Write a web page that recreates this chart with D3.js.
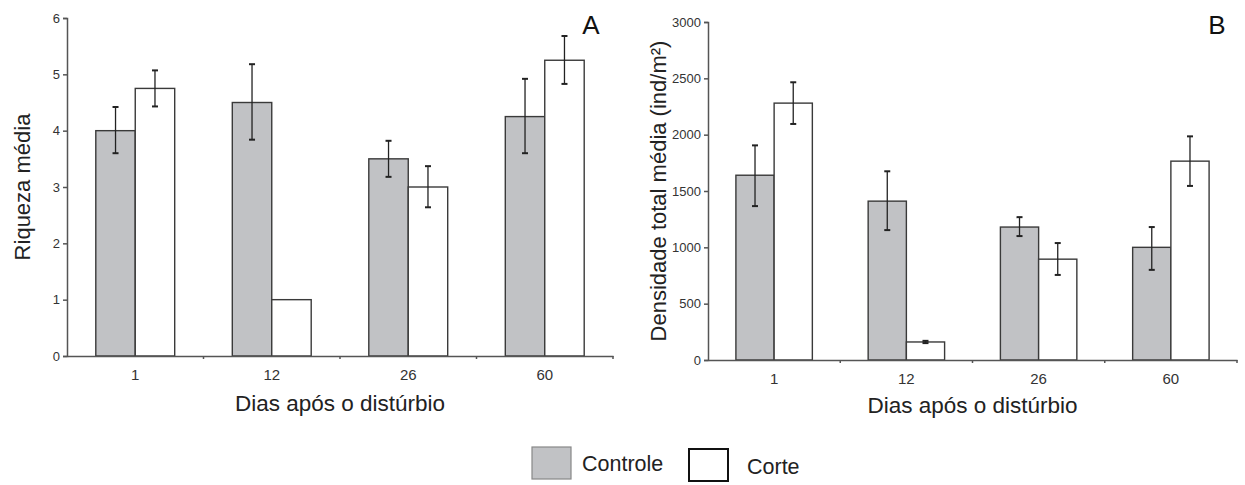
<!DOCTYPE html>
<html>
<head>
<meta charset="utf-8">
<script src="https://cdn.jsdelivr.net/npm/d3@7"></script>
<style>
  body { margin: 0; background: #fff; }
  svg { font-family: "Liberation Sans", Arial, sans-serif; }
</style>
</head>
<body>
<svg width="1245" height="485"></svg>
<script>
// data
var days = ["1", "12", "26", "60"],
    series = ["Controle", "Corte"];

var riquezaControle = [4.0, 4.5, 3.5, 4.25],
    riquezaControleLo = [3.6, 3.84, 3.18, 3.6],
    riquezaControleHi = [4.42, 5.18, 3.82, 4.92],
    riquezaCorte = [4.75, 1.0, 3.0, 5.25],
    riquezaCorteLo = [4.43, null, 2.64, 4.83],
    riquezaCorteHi = [5.07, null, 3.37, 5.68];

var densControle = [1640, 1410, 1180, 1000],
    densControleLo = [1366, 1153, 1100, 800],
    densControleHi = [1905, 1675, 1268, 1180],
    densCorte = [2280, 160, 895, 1765],
    densCorteLo = [2095, 150, 755, 1545],
    densCorteHi = [2465, 170, 1038, 1985];

var ticksA = [0, 1, 2, 3, 4, 5, 6],
    ticksB = [0, 500, 1000, 1500, 2000, 2500, 3000];

var svg = d3.select("svg");

var greyFill = "#c1c2c5",
    barStroke = "#3a3a3a",
    axisColor = "#555";

function panel(opt) {
    var g = svg.append("g");

    var x = d3.scaleBand()
        .domain(days)
        .range([opt.left, opt.right])
        .padding(0);

    var xs = d3.scaleBand()
        .domain(series)
        .range([0, x.bandwidth()])
        .paddingInner(0)
        .paddingOuter(0.73);

    var y = d3.scaleLinear()
        .domain([0, opt.max])
        .range([opt.bottom, opt.top]);

    // bars
    var rows = days.map(function (d, i) {
        return [
            { day: d, s: "Controle", v: opt.ctrl[i], lo: opt.ctrlLo[i], hi: opt.ctrlHi[i] },
            { day: d, s: "Corte", v: opt.corte[i], lo: opt.corteLo[i], hi: opt.corteHi[i] }
        ];
    });
    var flat = [].concat.apply([], rows);

    g.selectAll("rect.bar")
        .data(flat)
        .enter()
        .append("rect")
        .attr("class", "bar")
        .attr("x", function (d) { return x(d.day) + xs(d.s); })
        .attr("y", function (d) { return y(d.v); })
        .attr("width", xs.bandwidth())
        .attr("height", function (d) { return y(0) - y(d.v); })
        .attr("fill", function (d) { return d.s == "Controle" ? greyFill : "#fff"; })
        .attr("stroke", barStroke)
        .attr("stroke-width", 1.4);

    // error bars
    var err = g.selectAll("g.err")
        .data(flat.filter(function (d) { return d.lo != null; }))
        .enter()
        .append("g")
        .attr("class", "err")
        .attr("stroke", "#222")
        .attr("stroke-width", 1.3);

    function cx(d) { return x(d.day) + xs(d.s) + xs.bandwidth() / 2; }

    err.append("line")
        .attr("x1", cx).attr("x2", cx)
        .attr("y1", function (d) { return y(d.lo); })
        .attr("y2", function (d) { return y(d.hi); });
    err.append("line")
        .attr("x1", function (d) { return cx(d) - 3; })
        .attr("x2", function (d) { return cx(d) + 3; })
        .attr("y1", function (d) { return y(d.hi); })
        .attr("y2", function (d) { return y(d.hi); })
        .attr("stroke-width", 2);
    err.append("line")
        .attr("x1", function (d) { return cx(d) - 3; })
        .attr("x2", function (d) { return cx(d) + 3; })
        .attr("y1", function (d) { return y(d.lo); })
        .attr("y2", function (d) { return y(d.lo); })
        .attr("stroke-width", 2);

    // y axis
    var ya = g.append("g")
        .attr("transform", "translate(" + opt.left + ",0)")
        .call(d3.axisLeft(y).tickValues(opt.ticks).tickSize(4).tickPadding(3).tickFormat(d3.format("d")));
    ya.selectAll("path, line").attr("stroke", axisColor).attr("stroke-width", 1.5);
    ya.attr("font-size", 13).attr("font-family", "Liberation Sans, Arial, sans-serif");
    ya.selectAll("text").attr("fill", "#333");

    // x axis: baseline with ticks between groups, labels at centres
    var xa = g.append("g")
        .attr("transform", "translate(0," + opt.bottom + ")")
        .call(d3.axisBottom(x).tickSize(0).tickPadding(13));
    xa.select("path").attr("stroke", axisColor).attr("stroke-width", 1.5);
    xa.attr("font-size", 15).attr("font-family", "Liberation Sans, Arial, sans-serif");
    xa.selectAll("text").attr("fill", "#333");

    g.selectAll("line.sep")
        .data(days)
        .enter()
        .append("line")
        .attr("class", "sep")
        .attr("x1", function (d) { return x(d) + x.bandwidth(); })
        .attr("x2", function (d) { return x(d) + x.bandwidth(); })
        .attr("y1", opt.bottom)
        .attr("y2", opt.bottom + 3)
        .attr("stroke", axisColor)
        .attr("stroke-width", 1.5);

    // titles
    g.append("text")
        .attr("transform", "translate(" + opt.yTitleX + "," + ((opt.top + opt.bottom) / 2) + ") rotate(-90)")
        .attr("text-anchor", "middle")
        .attr("font-size", 22)
        .attr("fill", "#222")
        .text(opt.yTitle);

    g.append("text")
        .attr("x", (opt.left + opt.right) / 2)
        .attr("y", opt.xTitleY)
        .attr("text-anchor", "middle")
        .attr("font-size", 22.5)
        .attr("fill", "#222")
        .text("Dias após o distúrbio");

    g.append("text")
        .attr("x", opt.letterX)
        .attr("y", 34)
        .attr("text-anchor", "middle")
        .attr("font-size", 26)
        .attr("fill", "#111")
        .text(opt.letter);
}

panel({
    left: 67, right: 613, top: 18, bottom: 356, max: 6, ticks: ticksA,
    ctrl: riquezaControle, ctrlLo: riquezaControleLo, ctrlHi: riquezaControleHi,
    corte: riquezaCorte, corteLo: riquezaCorteLo, corteHi: riquezaCorteHi,
    yTitle: "Riqueza média", yTitleX: 30, letter: "A", letterX: 591, xTitleY: 411
});

panel({
    left: 708, right: 1237, top: 22, bottom: 360, max: 3000, ticks: ticksB,
    ctrl: densControle, ctrlLo: densControleLo, ctrlHi: densControleHi,
    corte: densCorte, corteLo: densCorteLo, corteHi: densCorteHi,
    yTitle: "Densidade total média (ind/m²)", yTitleX: 666, letter: "B", letterX: 1217, xTitleY: 413
});

// legend
var legend = svg.append("g");
var legendX = [532, 689],
    legendTextX = [582, 747];

legend.selectAll("rect")
    .data(series)
    .enter()
    .append("rect")
    .attr("x", function (d, i) { return legendX[i]; })
    .attr("y", function (d, i) { return i == 0 ? 447 : 449; })
    .attr("width", 39)
    .attr("height", 32)
    .attr("fill", function (d, i) { return i == 0 ? greyFill : "#fff"; })
    .attr("stroke", function (d, i) { return i == 0 ? "#888" : "#111"; })
    .attr("stroke-width", function (d, i) { return i == 0 ? 1.2 : 2; });

legend.selectAll("text")
    .data(series)
    .enter()
    .append("text")
    .attr("x", function (d, i) { return legendTextX[i]; })
    .attr("y", function (d, i) { return i == 0 ? 471 : 474; })
    .attr("font-size", 21.5)
    .attr("fill", "#222")
    .text(function (d) { return d; });
</script>
</body>
</html>
